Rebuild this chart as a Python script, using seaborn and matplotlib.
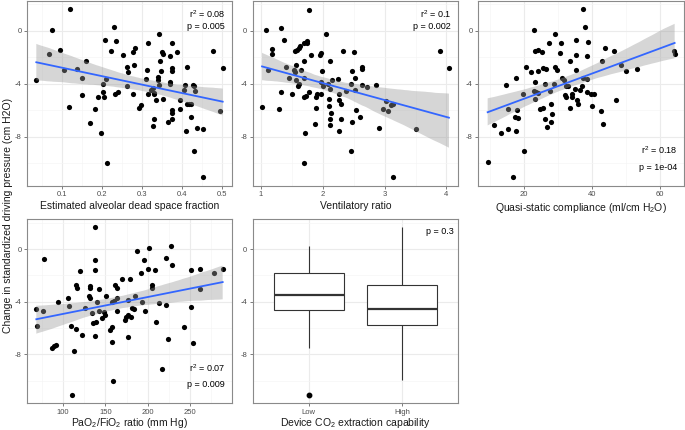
import numpy as np
import pandas as pd
import matplotlib
matplotlib.use('Agg')
import matplotlib.pyplot as plt
from matplotlib.ticker import MultipleLocator, FixedLocator
import seaborn as sns

# dead space fraction vs change in driving pressure
ds_x = [0.12, 0.075, 0.069, 0.097, 0.037, 0.105, 0.139, 0.16, 0.15, 0.15, 0.119, 0.17, 0.182, 0.191, 0.199,
        0.213, 0.202, 0.203, 0.206, 0.211, 0.208, 0.231, 0.235, 0.224, 0.234, 0.24, 0.254, 0.264, 0.265, 0.264,
        0.277, 0.282, 0.28, 0.278, 0.293, 0.298, 0.315, 0.312, 0.31, 0.315, 0.322, 0.327, 0.33, 0.331, 0.334,
        0.33, 0.327, 0.34, 0.341, 0.342, 0.343, 0.345, 0.348, 0.351, 0.352, 0.352, 0.364, 0.369, 0.371, 0.371,
        0.374, 0.375, 0.374, 0.374, 0.374, 0.375, 0.388, 0.394, 0.395, 0.404, 0.408, 0.41, 0.411, 0.412, 0.416,
        0.422, 0.422, 0.428, 0.43, 0.432, 0.43, 0.438, 0.452, 0.453, 0.478, 0.494, 0.501]
ds_y = [1.65, 0.08, -1.73, -1.43, -3.68, -2.95, -2.9, -2.3, -3.55, -4.85, -5.73, -6.98, -5.93, -4.98, -7.73,
        -9.98, -3.98, -4.6, -4.98, -3.6, -0.68, 0.28, -0.78, -1.48, -4.73, -4.58, -1.8, -2.73, -3.1, -4.18,
        -1.6, -1.25, -2.55, -4.75, -5.85, -5.6, -0.9, -2.93, -3.65, -4.73, -4.48, -4.33, -4.7, -4.75, -5.25,
        -6.65, -7.15, -3.5, -3.73, -4.05, -0.25, -2.3, -3.05, -1.58, -1.73, -5.15, -6.88, -3.85, -3.98, -1.9,
        -2.8, -3.05, -0.88, -6.23, -6.65, -5.98, -1.58, -5.23, -5.88, -4.48, -4.08, -7.55, -5.48, -2.73, -5.55,
        -5.5, -6.53, -4.08, -4.18, -4.53, -9.1, -7.3, -7.4, -11.05, -1.48, -6.05, -2.78]

# ventilatory ratio
vr_x = [1.08, 1.11, 1.02, 1.18, 1.18, 1.32, 1.38, 1.4, 1.45, 1.32, 1.3, 1.5, 1.56, 1.58, 1.62, 1.63, 1.57,
        1.54, 1.56, 1.57, 1.6, 1.61, 1.65, 1.69, 1.69, 1.74, 1.75, 1.7, 1.7, 1.73, 1.78, 1.78, 1.81, 1.71, 1.7,
        1.87, 1.89, 1.9, 1.89, 1.95, 1.98, 1.99, 1.98, 1.97, 2.01, 2.05, 2.09, 2.11, 2.1, 2.1, 2.11, 2.11, 2.12,
        2.13, 2.15, 2.24, 2.26, 2.26, 2.27, 2.3, 2.29, 2.32, 2.37, 2.45, 2.47, 2.46, 2.48, 2.5, 2.52, 2.52, 2.53,
        2.6, 2.63, 2.64, 2.64, 2.72, 2.86, 2.91, 2.98, 3.02, 3.06, 3.1, 3.13, 3.13, 3.5, 3.9, 4.04]
vr_y = [0.08, -2.98, -5.73, -1.4, -1.73, 0.23, -0.68, -2.73, -3.55, -4.6, -5.93, -4.75, -1.55, -1.43, -1.3,
        -1.15, -2.55, -2.93, -3.1, -3.68, -4.18, -3.98, -2.93, -2.3, -0.88, -0.73, -0.88, -3.55, -4.98, -4.88,
        -4.6, 1.6, -1.8, -7.73, -9.98, -7.03, -4.98, -4.75, -5.85, -1.85, -1.68, -3.03, -3.83, -4.73, -4.13,
        -0.23, -3.98, -4.35, -5.15, -5.65, -6.65, -7.13, -2.28, -6.23, -3.68, -3.65, -4.73, -7.55, -5.23, -5.53,
        -6.63, -1.55, -4.55, -3.98, -6.88, -9.08, -3.05, -1.58, -3.55, -4.48, -5.98, -6.53, -2.73, -2.85, -4.1,
        -4.23, -4.1, -7.3, -5.9, -5.28, -6.05, -5.6, -5.55, -11.05, -7.4, -1.48, -2.78]

# quasi-static compliance
cs_x = [9.3, 16.9, 20, 11.3, 13.1, 15.4, 14.6, 15.4, 17.8, 17.9, 17.5, 18.3, 17.6, 19.8, 20.6, 22.1, 23.1,
        23.3, 24, 23.3, 23.5, 23, 23.2, 24.1, 24.2, 24.6, 25.3, 25.5, 25.5, 26.2, 26.6, 26.2, 26.8, 27.4, 27.6,
        28, 28, 28.4, 28.8, 29.2, 29.2, 29.8, 30.6, 30.8, 31.3, 31.9, 32.2, 32.5, 32.4, 32.9, 33.5, 33.7, 34.2,
        34.1, 35.3, 35.3, 35.1, 35.2, 35.6, 36, 36.4, 37.2, 37.3, 37.5, 38.1, 38.5, 38.6, 38.7, 38.9, 39.8, 39.9,
        40.6, 42.7, 43.2, 42.9, 43.9, 46.6, 47, 48.7, 50, 53.2, 64.2, 64.4]
cs_y = [-9.93, -11.05, -9.05, -7.13, -7.73, -7.38, -4.05, -5.9, -3.55, -5.98, -6.53, -6.6, -7.55, -4.73,
        -2.73, -3.1, 0.08, -1.48, -1.43, -3.85, -4.6, -4.53, -5.13, -4.68, -3.05, -5.9, -1.6, -2.78, -5.78,
        -4.0, -2.9, -6.63, -7.28, -0.88, -4.53, -6.9, -5.55, -6.28, -3.98, -0.23, -2.73, -2.93, -1.68, -0.88,
        -3.55, -3.73, -4.8, -4.98, -4.15, -4.18, -5.85, -2.3, -4.73, -4.98, -1.8, -2.93, -4.35, -0.68, -5.25,
        -5.48, -4.43, -4.18, 1.65, -3.58, 0.28, -4.6, -3.65, -1.88, -0.8, -4.75, -5.63, -4.73, -6.03, -7.05,
        -2.28, -1.25, -1.55, -5.23, -2.55, -3.05, -2.85, -1.48, -1.73]

# PaO2/FiO2
pf_x = [68.4, 69.1, 76.2, 77.3, 86.7, 88.7, 92.2, 94.5, 105.5, 106.6, 109.4, 110.5, 113.3, 114.8, 115.2,
        116.4, 119.9, 122.3, 125.8, 130.1, 131.3, 131.6, 132, 133.6, 135.2, 137.1, 137.5, 137.9, 138.7, 137.9,
        140.2, 141.8, 142.2, 145.7, 148, 149.2, 151.2, 155.5, 157.4, 157.4, 157.4, 158.6, 159.8, 160.9, 163.3,
        163.7, 164.1, 169.5, 173, 174.6, 176.2, 177, 177, 179.3, 179.7, 181.6, 184, 184.8, 187.5, 191.8, 193.4,
        195.3, 196.5, 199.6, 201.2, 205.1, 205.1, 209, 209.4, 213.3, 217.2, 221.1, 221.5, 223.8, 227.3, 228.5,
        242.2, 250.8, 251.2, 252.7, 261, 261, 278.5, 288.3]
pf_y = [-4.58, -5.85, -4.73, -0.73, -7.48, -7.35, -7.28, -4.05, -3.68, -4.35, -5.85, -11.05, -7.73, -6.03,
        -2.73, -2.93, -1.68, -6.53, -4.48, -3.55, -3.68, -2.98, -2.8, -4.85, -5.63, -1.6, -0.85, 1.65, -5.53,
        -6.63, -3.98, -3.05, -4.73, -5.23, -4.78, -4.98, -3.55, -6.15, -5.93, -7.03, -4.05, -9.98, -3.93, -2.73,
        -2.93, -4.73, -3.68, -2.28, -5.35, -5.15, -6.68, -3.85, -4.98, -2.28, -5.18, -4.48, -4.53, -3.53, -0.18,
        -1.85, -3.98, -0.85, -4.73, -1.48, 0.08, -2.73, -2.93, -1.6, -5.55, -4.1, -9.1, -0.68, -4.23, -6.85,
        0.23, -1.23, -5.93, -1.6, -4.43, -7.13, -1.48, -3.05, -1.85, -1.48]

# device CO2 extraction groups (values chosen to reproduce the box summaries)
low_vals = [-11.05, -7.5, -4.65, -4.2, -3.5, -2.5, -1.8, -0.5, 0.2]
high_vals = [-9.95, -7.0, -5.75, -5.0, -4.55, -3.5, -2.75, -1.0, 1.65]
groups = ['Low', 'High']

W, H = 685, 430
all_y = ds_y + vr_y + cs_y + pf_y
ypad = 0.05 * (max(all_y) - min(all_y))
YLIM = (min(all_y) - ypad, max(all_y) + ypad)


def px_axes(fig, left, top, right, bottom):
    return fig.add_axes([left / W, 1 - bottom / H, (right - left) / W, (bottom - top) / H])


def style(ax, xstep=None):
    ax.set_ylim(*YLIM)
    ax.yaxis.set_major_locator(FixedLocator([0, -4, -8]))
    ax.yaxis.set_minor_locator(FixedLocator([2, -2, -6, -10]))
    if xstep:
        ax.xaxis.set_major_locator(MultipleLocator(xstep))
        ax.xaxis.set_minor_locator(MultipleLocator(xstep / 2))
    ax.set_axisbelow(True)
    ax.grid(which='major', color='#EBEBEB', lw=0.8)
    ax.grid(which='minor', color='#F5F5F5', lw=0.5)
    for s in ax.spines.values():
        s.set_color('#8a8a8a')
        s.set_linewidth(0.8)
    ax.tick_params(which='major', length=2.5, width=0.6, color='#666666', labelsize=5.5,
                   labelcolor='#4d4d4d', pad=1.5)
    ax.tick_params(which='minor', length=0)
    ax.set_ylabel('')


def scatter_panel(ax, x, y, xlabel, xstep, r2, p, top=True, lpad=2):
    sns.scatterplot(x=x, y=y, ax=ax, color='black', s=14, linewidth=0, zorder=2)
    sns.regplot(x=x, y=y, ax=ax, scatter=False, color='#3366FF', seed=7,
                line_kws={'linewidth': 1.3, 'zorder': 4})
    band = ax.collections[-1]
    band.set_facecolor('#999999')
    band.set_alpha(0.4)
    band.set_zorder(3)
    pad = 0.05 * (max(x) - min(x))
    ax.set_xlim(min(x) - pad, max(x) + pad)
    style(ax, xstep)
    ax.set_xlabel(xlabel, fontsize=7.5, color='#1a1a1a', labelpad=lpad)
    ya, yb = (0.928, 0.858) if top else (0.19, 0.10)
    ax.text(0.965, ya, 'r$^2$ = ' + r2, transform=ax.transAxes, ha='right', va='center', fontsize=6.5)
    ax.text(0.965, yb, 'p = ' + p, transform=ax.transAxes, ha='right', va='center', fontsize=6.5)


def main():
    plt.rcParams['font.family'] = ['Liberation Sans', 'DejaVu Sans']
    plt.rcParams['mathtext.default'] = 'regular'
    plt.rcParams['axes.unicode_minus'] = False

    fig = plt.figure(figsize=(W / 100, H / 100), dpi=100)

    ax1 = px_axes(fig, 27, 0.7, 232, 185.7)
    scatter_panel(ax1, ds_x, ds_y, 'Estimated alveolar dead space fraction', 0.1, '0.08', '0.005')

    ax2 = px_axes(fig, 252.7, 0.7, 458.3, 185.7)
    scatter_panel(ax2, vr_x, vr_y, 'Ventilatory ratio', 1, '0.1', '0.002')

    ax3 = px_axes(fig, 478.3, 0.7, 684, 185.7)
    scatter_panel(ax3, cs_x, cs_y, 'Quasi-static compliance (ml/cm H$_2$O)', 20, '0.18', '1e-04', top=False)

    ax4 = px_axes(fig, 27, 219, 232, 403)
    scatter_panel(ax4, pf_x, pf_y, 'PaO$_2$/FiO$_2$ ratio (mm Hg)', 50, '0.07', '0.009', top=False, lpad=0.5)

    ax5 = px_axes(fig, 252.7, 219, 458.3, 403)
    df = pd.DataFrame({'grp': ['Low'] * len(low_vals) + ['High'] * len(high_vals),
                       'val': low_vals + high_vals})
    sns.boxplot(data=df, x='grp', y='val', order=groups, ax=ax5, color='white', linecolor='#333333',
                linewidth=0.8, width=0.75, showcaps=False, medianprops={'linewidth': 1.6},
                flierprops={'marker': 'o', 'markerfacecolor': 'black', 'markeredgecolor': 'black',
                            'markersize': 3.2})
    ax5.set_xlim(-0.6, 1.6)
    style(ax5)
    ax5.set_xlabel('Device CO$_2$ extraction capability', fontsize=7.5, color='#1a1a1a', labelpad=0.5)
    ax5.text(0.98, 0.933, 'p = 0.3', transform=ax5.transAxes, ha='right', va='center', fontsize=6.5)

    fig.text(0.012, 0.5, 'Change in standardized driving pressure (cm H2O)', rotation=90,
             ha='center', va='center', fontsize=7.5, color='#1a1a1a')

    fig.savefig('out.png', dpi=100)
    plt.close(fig)


if __name__ == '__main__':
    main()
